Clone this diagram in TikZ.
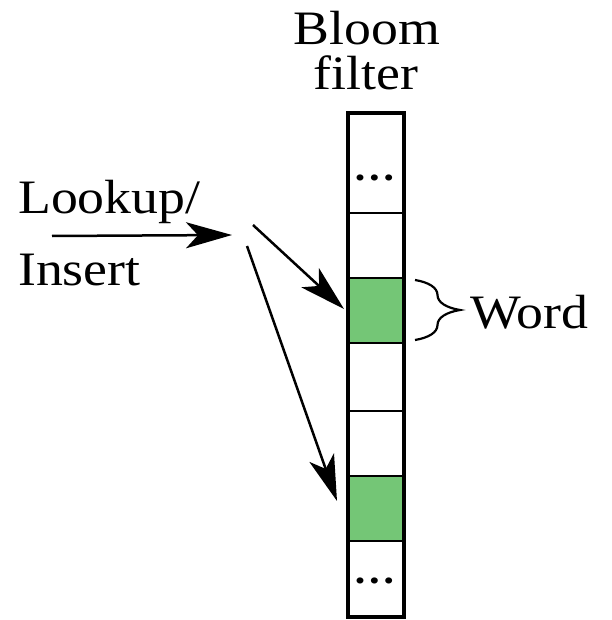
\documentclass[tikz,border=0pt]{standalone}
\usepackage{fontspec}
\setmainfont[FakeStretch=1.12]{Liberation Serif}
\usetikzlibrary{arrows.meta,decorations.pathreplacing}
\definecolor{cellgreen}{RGB}{116,198,118}
\tikzset{
  cell/.style={draw, line width=2.5pt, minimum width=56pt, inner sep=0pt, outer sep=0pt},
  greencell/.style={cell, fill=cellgreen},
  lbl/.style={font=\fontsize{48}{50}\selectfont, inner sep=0pt},
  dotslbl/.style={font=\fontsize{38}{40}\selectfont\bfseries, inner sep=0pt, anchor=base},
  arr/.style={line width=2.5pt, -{Stealth[length=46pt, width=26pt, inset=12pt]}},
}
\begin{document}
\begin{tikzpicture}[x=1pt, y=-1pt]
\useasboundingbox (0,0) rectangle (611,620);
% cells
\node[cell, minimum height=100pt] (c1) at (376,163) {};
\node[cell, minimum height=65pt] (c2) at (376,245.5) {};
\node[greencell, minimum height=65pt] (g1) at (376,310.5) {};
\node[cell, minimum height=68pt] (c4) at (376,377) {};
\node[cell, minimum height=65pt] (c5) at (376,443.5) {};
\node[greencell, minimum height=65pt] (g2) at (376,508.5) {};
\node[cell, minimum height=76pt] (c7) at (376,579) {};
\draw[line width=4pt] (c1.north west) rectangle (c7.south east);
\node[dotslbl] (d1) at (375,181) {…};
\node[dotslbl] (d2) at (375,583) {…};
% labels
\node[lbl, anchor=base] (bloom) at (367,45) {Bloom};
\node[lbl, anchor=base] (filter) at (366,90) {filter};
\node[lbl, anchor=base west] (lookup) at (18,213) {Lookup/};
\node[lbl, anchor=base west] (insert) at (18,285) {Insert};
\node[lbl, anchor=base west] (word) at (470,328) {Word};
% arrows
\coordinate (h0) at (52,236);
\coordinate (h1) at (232,235);
\coordinate (s1) at (253,225);
\coordinate (t1) at (344,309);
\coordinate (s2) at (247,246);
\coordinate (t2) at (337,501);
\draw[arr] (h0) -- (h1);
\draw[arr] (s1) -- (t1);
\draw[arr] (s2) -- (t2);
% brace
\coordinate (b0) at (415,280);
\coordinate (b1) at (415,340);
\draw[line width=2.2pt, decorate, decoration={brace, amplitude=45pt, aspect=0.5}] (b0) -- (b1);
\end{tikzpicture}
\end{document}
